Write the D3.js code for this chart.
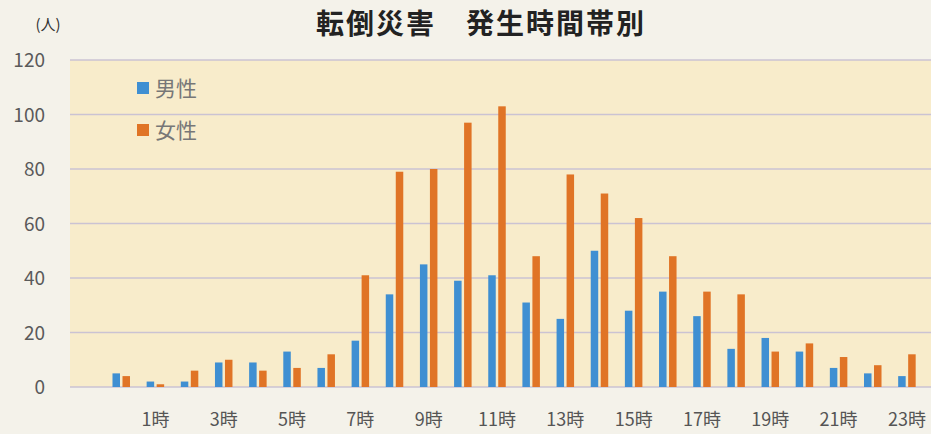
<!DOCTYPE html>
<html><head><meta charset="utf-8">
<script src="https://cdn.jsdelivr.net/npm/d3@7"></script>
<style>
html,body{margin:0;padding:0;background:#f4f2ea;}
svg{display:block;}
text{font-family:"Noto Sans CJK JP","Noto Sans",sans-serif;}
</style></head><body>
<svg id="chart" width="931" height="434"></svg>
<script>
const categories = ["", "0時","1時","2時","3時","4時","5時","6時","7時","8時","9時","10時","11時",
  "12時","13時","14時","15時","16時","17時","18時","19時","20時","21時","22時","23時"];
const male   = [null, 5, 2, 2, 9, 9, 13, 7, 17, 34, 45, 39, 41, 31, 25, 50, 28, 35, 26, 14, 18, 13, 7, 5, 4];
const female = [null, 4, 1, 6, 10, 6, 7, 12, 41, 79, 80, 97, 103, 48, 78, 71, 62, 48, 35, 34, 13, 16, 11, 8, 12];
const seriesNames = ["男性", "女性"];
const seriesColors = ["#3f8fd2", "#e07426"];
const yTicks = [0, 20, 40, 60, 80, 100, 120];
const title = "転倒災害　発生時間帯別";
const unitLabel = "(人)";

const svg = d3.select("#chart");
const m = {left: 70, right: 7, top: 60, bottom: 47};
const W = 931, H = 434;
const x = d3.scaleBand().domain(d3.range(categories.length)).range([m.left, W - m.right]).paddingInner(0).paddingOuter(0);
const y = d3.scaleLinear().domain([0, 120]).range([H - m.bottom, m.top]);

// plot background
svg.append("rect").attr("x", m.left).attr("y", y(120)).attr("width", W - m.left)
  .attr("height", y(0) - y(120)).attr("fill", "#f8eccb");

// gridlines
svg.append("g").selectAll("line").data(yTicks).join("line")
  .attr("x1", m.left).attr("x2", W)
  .attr("y1", d => y(d)).attr("y2", d => y(d))
  .attr("stroke", "#cbc3d3").attr("stroke-width", 1.6);

// y axis labels
const yAxis = d3.axisLeft(y).tickValues(yTicks).tickSize(0).tickPadding(0);
const gy = svg.append("g").attr("transform", `translate(${m.left - 25},0)`).call(yAxis);
gy.select(".domain").remove();
gy.selectAll("text").attr("font-size", 19).attr("fill", "#5a5a5a").attr("dy", "0.35em");

// x axis labels (every other category, Excel style)
const xAxis = d3.axisBottom(x).tickValues(d3.range(0, categories.length, 2)).tickFormat(i => categories[i]).tickSize(0).tickPadding(0);
const gx = svg.append("g").attr("transform", `translate(0,${y(0) + 26})`).call(xAxis);
gx.select(".domain").remove();
gx.selectAll("text").attr("font-size", 18).attr("fill", "#555").attr("dy", "0.71em");

// bars
const bw = 7.5, gap = 2.5;
const series = [male, female];
series.forEach((vals, si) => {
  svg.append("g").selectAll("rect").data(vals.map((v, i) => ({v, i})).filter(d => d.v != null)).join("rect")
    .attr("x", d => x(d.i) + x.bandwidth() / 2 + (si === 0 ? -(bw + gap / 2) : gap / 2))
    .attr("y", d => y(d.v))
    .attr("width", bw)
    .attr("height", d => y(0) - y(d.v))
    .attr("fill", seriesColors[si]);
});

// legend
const lg = svg.append("g");
seriesNames.forEach((n, i) => {
  const cy = 88 + i * 42;
  lg.append("rect").attr("x", 137).attr("y", cy - 6).attr("width", 12).attr("height", 12).attr("fill", seriesColors[i]);
  lg.append("text").attr("x", 155).attr("y", cy).attr("dy", "0.36em").attr("font-size", 21).attr("fill", "#777").text(n);
});

// title
svg.append("text").attr("x", 481).attr("y", 24).attr("dy", "0.36em").attr("text-anchor", "middle")
  .attr("font-size", 28).attr("font-weight", "bold").attr("fill", "#222").attr("letter-spacing", 2).text(title);
svg.append("text").attr("x", 48).attr("y", 25).attr("dy", "0.36em").attr("text-anchor", "middle")
  .attr("font-size", 15).attr("fill", "#333").text(unitLabel);
</script>
</body></html>
